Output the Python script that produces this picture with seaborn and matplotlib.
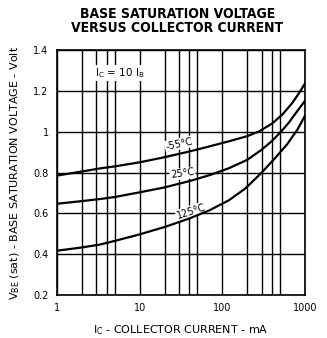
import numpy as np
import pandas as pd
import matplotlib
matplotlib.use("Agg")
import matplotlib.pyplot as plt
import seaborn as sns

# ================== DATA ================== #
ic_m55 = [1, 2, 3.3, 5, 10, 20, 40, 70, 120, 200, 280, 400, 530, 700, 850, 1000]
vbe_m55 = [0.785, 0.805, 0.82, 0.83, 0.85, 0.875, 0.903, 0.928, 0.953, 0.978,
           1.002, 1.04, 1.083, 1.14, 1.19, 1.236]

ic_25 = [1, 2, 3.3, 5, 10, 20, 40, 70, 120, 200, 300, 400, 510, 640, 810, 1000]
vbe_25 = [0.647, 0.66, 0.67, 0.68, 0.703, 0.727, 0.758, 0.787, 0.821, 0.862,
          0.912, 0.955, 0.999, 1.045, 1.102, 1.151]

ic_125 = [1, 2, 3.3, 5, 10, 20, 40, 70, 120, 190, 300, 440, 610, 810, 1000]
vbe_125 = [0.417, 0.433, 0.447, 0.465, 0.497, 0.533, 0.575, 0.615, 0.664, 0.722,
           0.80, 0.873, 0.939, 1.01, 1.078]

curve_labels = ["-55°C", "25°C", "125°C"]

x_ticks = [1, 10, 100, 1000]
x_minor = [2, 3, 4, 5, 20, 30, 40, 50, 200, 300, 400, 500]
y_ticks = [0.2, 0.4, 0.6, 0.8, 1.0, 1.2, 1.4]
y_ticklabels = ["0.2", "0.4", "0.6", "0.8", "1", "1.2", "1.4"]

df = pd.concat([
    pd.DataFrame({"ic": ic_m55, "vbe": vbe_m55, "temp": curve_labels[0]}),
    pd.DataFrame({"ic": ic_25, "vbe": vbe_25, "temp": curve_labels[1]}),
    pd.DataFrame({"ic": ic_125, "vbe": vbe_125, "temp": curve_labels[2]}),
])

# ================== FIGURE ================== #
sns.set_style("white")
plt.rcParams["font.family"] = ["DejaVu Sans"]
plt.rcParams["text.color"] = "black"
plt.rcParams["axes.labelcolor"] = "black"
plt.rcParams["xtick.color"] = "black"
plt.rcParams["ytick.color"] = "black"

fig = plt.figure(figsize=(3.27, 3.38), dpi=100)
ax = fig.add_axes([0.1743, 0.1272, 0.7584, 0.7248])

sns.lineplot(data=df, x="ic", y="vbe", units="temp", estimator=None,
             color="black", linewidth=1.6, sort=True, ax=ax, zorder=5)

ax.set_xscale("log")
ax.set_xlim(1, 1000)
ax.set_ylim(0.2, 1.4)
ax.set_xticks(x_ticks)
ax.set_xticklabels([str(t) for t in x_ticks])
ax.set_xticks(x_minor, minor=True)
ax.set_yticks(y_ticks)
ax.set_yticklabels(y_ticklabels)
ax.tick_params(which="both", length=0, labelsize=7, pad=6)
ax.xaxis.set_minor_formatter(matplotlib.ticker.NullFormatter())

ax.grid(True, which="both", color="black", linewidth=1.0, zorder=1)
ax.set_axisbelow(True)
for s in ax.spines.values():
    s.set_color("black")
    s.set_linewidth(1.2)

# labels on the curves, white box breaks the grid like the original
box = dict(facecolor="white", edgecolor="none", pad=0.6)
ax.text(30, 0.94, curve_labels[0], rotation=12, ha="center", va="center",
        fontsize=7, bbox=box, zorder=4)
ax.text(33, 0.794, curve_labels[1], rotation=8, ha="center", va="center",
        fontsize=7, bbox=box, zorder=4)
ax.text(42, 0.61, curve_labels[2], rotation=18, ha="center", va="center",
        fontsize=7, bbox=box, zorder=4)
ax.text(5.7, 1.287, r"I$_\mathregular{C}$ = 10 I$_\mathregular{B}$",
        ha="center", va="center", fontsize=7.5, bbox=box, zorder=4)

ax.set_xlabel(r"I$_\mathregular{C}$ - COLLECTOR CURRENT - mA", fontsize=8, labelpad=7)
ax.set_ylabel(r"V$_\mathregular{BE}$ (sat) - BASE SATURATION VOLTAGE - Volt",
              fontsize=8, labelpad=8)

fig.text(0.543, 0.98, "BASE SATURATION VOLTAGE\nVERSUS COLLECTOR CURRENT",
         ha="center", va="top", fontsize=10, fontweight="bold",
         family="DejaVu Sans", fontstretch="condensed", linespacing=1.0)

fig.savefig("out.png", dpi=100)
